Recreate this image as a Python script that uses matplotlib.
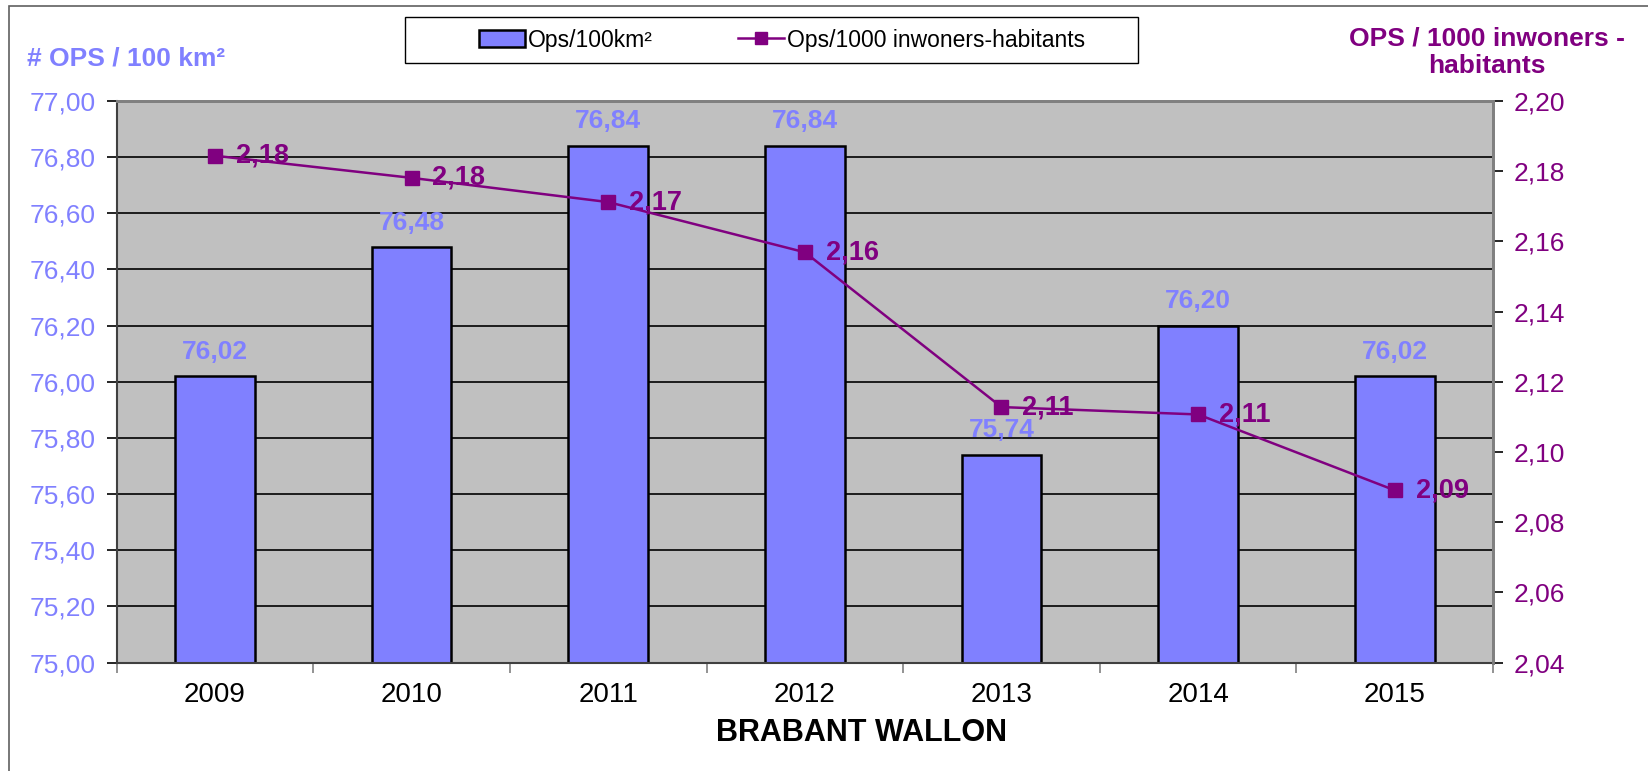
import matplotlib
matplotlib.use("Agg")
import matplotlib.pyplot as plt
from matplotlib.patches import Rectangle
from matplotlib.lines import Line2D
from matplotlib.patches import Patch
import numpy as np

plt.rcParams['font.family'] = ['Liberation Sans', 'DejaVu Sans']

years = ["2009", "2010", "2011", "2012", "2013", "2014", "2015"]
ops_per_100km2 = [76.02, 76.48, 76.84, 76.84, 75.74, 76.20, 76.02]
ops_per_1000_inh = [2.1844, 2.1781, 2.1712, 2.1569, 2.1128, 2.1107, 2.0891]
left_ticks = [75.00, 75.20, 75.40, 75.60, 75.80, 76.00, 76.20, 76.40, 76.60, 76.80, 77.00]
right_ticks = [2.04, 2.06, 2.08, 2.10, 2.12, 2.14, 2.16, 2.18, 2.20]

BAR = '#8080FF'
PURPLE = '#800080'

W, H = 1649, 771
fig = plt.figure(figsize=(W/100, H/100), dpi=100)
ax = fig.add_axes([116.7/W, 1-662.6/H, (1493-116.7)/W, (662.6-101)/H])
ax.set_facecolor('#C0C0C0')

x = np.arange(len(years))
ax.set_ylim(75.0, 77.0)
ax.set_xlim(-0.5, len(years)-0.5)
ax.set_yticks(left_ticks)
ax.set_yticklabels([f"{v:.2f}".replace('.', ',') for v in left_ticks], color=BAR, fontsize=19)
for v in left_ticks[1:-1]:
    ax.axhline(v, color='black', lw=1.2, zorder=1)

bars = ax.bar(x, [v - 75.0 for v in ops_per_100km2], bottom=75.0, width=0.405,
              color=BAR, edgecolor='black', linewidth=1.8, zorder=2)
for xi, v in zip(x, ops_per_100km2):
    ax.annotate(f"{v:.2f}".replace('.', ','), (xi, v), xytext=(0, 9), textcoords='offset points',
                ha='center', va='bottom', color=BAR, fontsize=19, fontweight='bold', zorder=5)

ax.set_xticks(x)
ax.set_xticklabels(years, fontsize=20)
ax.set_xticks(np.arange(-0.5, len(years), 1.0), minor=True)
ax.tick_params(axis='x', which='major', length=0, pad=14)
ax.tick_params(axis='x', which='minor', length=7, color='#808080', width=1.2)
ax.tick_params(axis='y', which='major', length=7, width=1.2, color='black', pad=8)
for s in ['top', 'right']:
    ax.spines[s].set_color('#808080')
    ax.spines[s].set_linewidth(2)
ax.spines['left'].set_color('#404040')
ax.spines['bottom'].set_color('#404040')
ax.spines['left'].set_linewidth(1.5)
ax.spines['bottom'].set_linewidth(1.5)

ax2 = ax.twinx()
ax2.set_ylim(2.04, 2.20)
ax2.set_yticks(right_ticks)
ax2.set_yticklabels([f"{v:.2f}".replace('.', ',') for v in right_ticks], color=PURPLE, fontsize=19)
ax2.tick_params(axis='y', length=7, width=1.2, color='black', pad=8)
ax2.plot(x, ops_per_1000_inh, color=PURPLE, lw=1.8, marker='s', markersize=10.5, zorder=4)
for xi, v in zip(x, ops_per_1000_inh):
    ax2.annotate(f"{v:.2f}".replace('.', ','), (xi, v), xytext=(15, 0), textcoords='offset points',
                 ha='left', va='center', color=PURPLE, fontsize=19.5, fontweight='bold', zorder=5)
for s in ['top', 'right']:
    ax2.spines[s].set_color('#808080')
    ax2.spines[s].set_linewidth(2)
ax2.spines['left'].set_visible(False)
ax2.spines['bottom'].set_visible(False)

fig.text(27/W, 1-58/H, "# OPS / 100 km²", color=BAR, fontsize=19, fontweight='bold',
         ha='left', va='center')
fig.text(1487/W, 1-52/H, "OPS / 1000 inwoners -\nhabitants", color=PURPLE, fontsize=19,
         fontweight='bold', ha='center', va='center', linespacing=1.2)
fig.text(862/W, 1-733/H, "BRABANT WALLON", color='black', fontsize=22, fontweight='bold',
         ha='center', va='center')

handles = [Patch(facecolor=BAR, edgecolor='black', linewidth=1.8),
           Line2D([0], [0], color=PURPLE, lw=1.8, marker='s', markersize=9)]
leg = fig.legend(handles, ["Ops/100km²", "Ops/1000 inwoners-habitants"],
                 loc='center', bbox_to_anchor=(782/W, 1-40/H), ncol=2, fontsize=16.5,
                 frameon=False, handlelength=2.0, handletextpad=0.15, columnspacing=3.7)

fig.patches.append(Rectangle((405/W, 1-63/H), (1138-405)/W, 46/H, transform=fig.transFigure,
                             fill=True, facecolor='white', edgecolor='black', lw=1.0, zorder=0))
fig.patches.append(Rectangle((9/W, -0.1), 1.2, 1-6/H+0.1, transform=fig.transFigure,
                             fill=False, edgecolor='#606060', lw=1.2))

fig.savefig("out.png", dpi=100)
